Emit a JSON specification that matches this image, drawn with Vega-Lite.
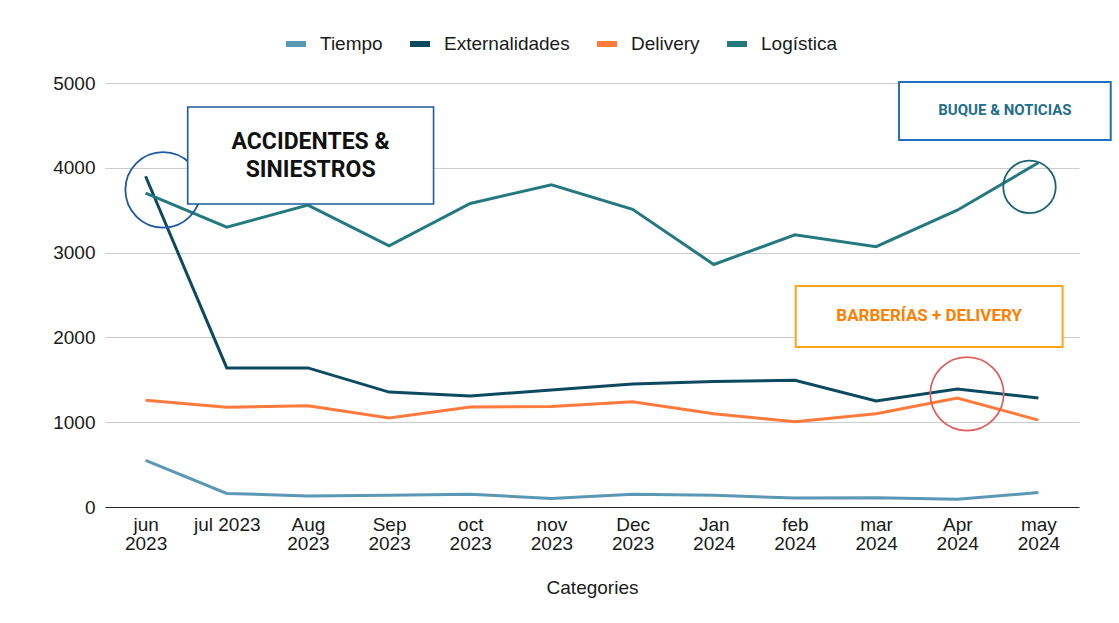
{
  "$schema": "https://vega.github.io/schema/vega-lite/v6.json",
  "width": 974,
  "height": 424,
  "autosize": {"type": "none"},
  "padding": {"left": 105, "top": 83, "right": 40, "bottom": 116},
  "background": "white",
  "config": {
    "font": "Liberation Sans",
    "view": {"stroke": null},
    "axis": {"labelFont": "Liberation Sans", "titleFont": "Liberation Sans", "labelColor": "#1a1a1a", "titleColor": "#1a1a1a"}
  },
  "layer": [
    {
      "data": {
        "values": [
          {"mes": "jun 2023", "serie": "Tiempo", "valor": 550},
          {"mes": "jul 2023", "serie": "Tiempo", "valor": 160},
          {"mes": "Aug 2023", "serie": "Tiempo", "valor": 130},
          {"mes": "Sep 2023", "serie": "Tiempo", "valor": 140},
          {"mes": "oct 2023", "serie": "Tiempo", "valor": 150},
          {"mes": "nov 2023", "serie": "Tiempo", "valor": 100},
          {"mes": "Dec 2023", "serie": "Tiempo", "valor": 150},
          {"mes": "Jan 2024", "serie": "Tiempo", "valor": 140},
          {"mes": "feb 2024", "serie": "Tiempo", "valor": 105},
          {"mes": "mar 2024", "serie": "Tiempo", "valor": 110},
          {"mes": "Apr 2024", "serie": "Tiempo", "valor": 90},
          {"mes": "may 2024", "serie": "Tiempo", "valor": 170},
          {"mes": "jun 2023", "serie": "Externalidades", "valor": 3900},
          {"mes": "jul 2023", "serie": "Externalidades", "valor": 1640},
          {"mes": "Aug 2023", "serie": "Externalidades", "valor": 1640},
          {"mes": "Sep 2023", "serie": "Externalidades", "valor": 1355},
          {"mes": "oct 2023", "serie": "Externalidades", "valor": 1310},
          {"mes": "nov 2023", "serie": "Externalidades", "valor": 1380},
          {"mes": "Dec 2023", "serie": "Externalidades", "valor": 1450},
          {"mes": "Jan 2024", "serie": "Externalidades", "valor": 1480},
          {"mes": "feb 2024", "serie": "Externalidades", "valor": 1495},
          {"mes": "mar 2024", "serie": "Externalidades", "valor": 1250},
          {"mes": "Apr 2024", "serie": "Externalidades", "valor": 1390},
          {"mes": "may 2024", "serie": "Externalidades", "valor": 1285},
          {"mes": "jun 2023", "serie": "Delivery", "valor": 1260},
          {"mes": "jul 2023", "serie": "Delivery", "valor": 1175},
          {"mes": "Aug 2023", "serie": "Delivery", "valor": 1195},
          {"mes": "Sep 2023", "serie": "Delivery", "valor": 1050},
          {"mes": "oct 2023", "serie": "Delivery", "valor": 1180},
          {"mes": "nov 2023", "serie": "Delivery", "valor": 1185},
          {"mes": "Dec 2023", "serie": "Delivery", "valor": 1240},
          {"mes": "Jan 2024", "serie": "Delivery", "valor": 1100},
          {"mes": "feb 2024", "serie": "Delivery", "valor": 1005},
          {"mes": "mar 2024", "serie": "Delivery", "valor": 1100},
          {"mes": "Apr 2024", "serie": "Delivery", "valor": 1285},
          {"mes": "may 2024", "serie": "Delivery", "valor": 1025},
          {"mes": "jun 2023", "serie": "Logística", "valor": 3700},
          {"mes": "jul 2023", "serie": "Logística", "valor": 3300},
          {"mes": "Aug 2023", "serie": "Logística", "valor": 3560},
          {"mes": "Sep 2023", "serie": "Logística", "valor": 3080},
          {"mes": "oct 2023", "serie": "Logística", "valor": 3580},
          {"mes": "nov 2023", "serie": "Logística", "valor": 3800},
          {"mes": "Dec 2023", "serie": "Logística", "valor": 3510},
          {"mes": "Jan 2024", "serie": "Logística", "valor": 2860},
          {"mes": "feb 2024", "serie": "Logística", "valor": 3210},
          {"mes": "mar 2024", "serie": "Logística", "valor": 3070},
          {"mes": "Apr 2024", "serie": "Logística", "valor": 3500},
          {"mes": "may 2024", "serie": "Logística", "valor": 4060}
        ]
      },
      "mark": {"type": "line", "strokeWidth": 3},
      "encoding": {
        "x": {
          "field": "mes", "type": "nominal", "sort": null,
          "scale": {"type": "point", "padding": 0.5},
          "title": "Categories",
          "axis": {
            "labelAngle": 0, "labelFontSize": 19, "labelLineHeight": 19, "labelPadding": 8,
            "ticks": false, "domainColor": "#222222", "domainWidth": 1.2, "grid": false,
            "labelExpr": "datum.value == 'jul 2023' ? datum.value : split(datum.value, ' ')",
            "labelBaseline": "top",
            "titleFontSize": 19, "titleFontWeight": "normal", "titlePadding": 25
          }
        },
        "y": {
          "field": "valor", "type": "quantitative",
          "scale": {"domain": [0, 5000], "nice": false},
          "title": null,
          "axis": {
            "values": [0, 1000, 2000, 3000, 4000, 5000], "format": "d",
            "labelFontSize": 19, "labelPadding": 10, "ticks": false, "domain": false,
            "gridColor": "#cccccc", "gridWidth": 1.2
          }
        },
        "color": {
          "field": "serie", "type": "nominal",
          "scale": {
            "domain": ["Tiempo", "Externalidades", "Delivery", "Logística"],
            "range": ["#5b98b6", "#0d4a5f", "#ff7a3c", "#24797f"]
          },
          "legend": {
            "title": null, "orient": "none", "direction": "horizontal",
            "legendX": 178, "legendY": -52, "padding": 0,
            "symbolType": "stroke", "symbolSize": 400, "symbolStrokeWidth": 6,
            "labelFontSize": 19, "labelFont": "Liberation Sans", "labelColor": "#1a1a1a",
            "labelOffset": 11, "columnPadding": 15
          }
        }
      }
    },
    {
      "encoding": {
        "x": {"type": "quantitative", "scale": {"domain": [-0.5, 11.5], "nice": false, "zero": false}, "axis": null},
        "y": {"type": "quantitative"}
      },
      "layer": [
        {
          "data": {"values": [{"px": 0.216, "py": 3740}]},
          "mark": {"type": "point", "shape": "circle", "filled": false, "size": 5700, "stroke": "#1e5aa0", "strokeWidth": 1.8, "opacity": 1},
          "encoding": {"x": {"field": "px", "type": "quantitative"}, "y": {"field": "py", "type": "quantitative"}}
        },
        {
          "data": {"values": [{"px": 10.89, "py": 3775}]},
          "mark": {"type": "point", "shape": "circle", "filled": false, "size": 2750, "stroke": "#1a6377", "strokeWidth": 1.8, "opacity": 1},
          "encoding": {"x": {"field": "px", "type": "quantitative"}, "y": {"field": "py", "type": "quantitative"}}
        },
        {
          "data": {"values": [{"px": 10.12, "py": 1335}]},
          "mark": {"type": "point", "shape": "circle", "filled": false, "size": 5400, "stroke": "#e0605f", "strokeWidth": 1.8, "opacity": 1},
          "encoding": {"x": {"field": "px", "type": "quantitative"}, "y": {"field": "py", "type": "quantitative"}}
        },
        {
          "data": {"values": [{"x0": 0.519, "x1": 3.548, "y0": 4717, "y1": 3573}]},
          "mark": {"type": "rect", "fill": "white", "stroke": "#1f5c99", "strokeWidth": 1.6},
          "encoding": {
            "x": {"field": "x0", "type": "quantitative"}, "x2": {"field": "x1"},
            "y": {"field": "y0", "type": "quantitative"}, "y2": {"field": "y1"}
          }
        },
        {
          "data": {"values": [{"x0": 9.283, "x1": 11.891, "y0": 5012, "y1": 4328}]},
          "mark": {"type": "rect", "fill": "white", "stroke": "#1f6fc2", "strokeWidth": 2},
          "encoding": {
            "x": {"field": "x0", "type": "quantitative"}, "x2": {"field": "x1"},
            "y": {"field": "y0", "type": "quantitative"}, "y2": {"field": "y1"}
          }
        },
        {
          "data": {"values": [{"x0": 8.01, "x1": 11.298, "y0": 2606, "y1": 1887}]},
          "mark": {"type": "rect", "fill": "white", "stroke": "#ffa31a", "strokeWidth": 2},
          "encoding": {
            "x": {"field": "x0", "type": "quantitative"}, "x2": {"field": "x1"},
            "y": {"field": "y0", "type": "quantitative"}, "y2": {"field": "y1"}
          }
        },
        {
          "data": {"values": [{"px": 2.033, "py": 4300, "t": "ACCIDENTES &\nSINIESTROS"}]},
          "mark": {"type": "text", "font": "Roboto", "fontWeight": "bold", "fontSize": 23, "lineBreak": "\n", "lineHeight": 28, "color": "#111111", "align": "center", "baseline": "middle"},
          "encoding": {"x": {"field": "px", "type": "quantitative"}, "y": {"field": "py", "type": "quantitative"}, "text": {"field": "t"}}
        },
        {
          "data": {"values": [{"px": 10.587, "py": 4682, "t": "BUQUE & NOTICIAS"}]},
          "mark": {"type": "text", "font": "Roboto", "fontWeight": "bold", "fontSize": 15, "color": "#1f6e8c", "align": "center", "baseline": "middle"},
          "encoding": {"x": {"field": "px", "type": "quantitative"}, "y": {"field": "py", "type": "quantitative"}, "text": {"field": "t"}}
        },
        {
          "data": {"values": [{"px": 9.654, "py": 2252, "t": "BARBERÍAS + DELIVERY"}]},
          "mark": {"type": "text", "font": "Roboto", "fontWeight": "bold", "fontSize": 17, "color": "#ff7f00", "align": "center", "baseline": "middle"},
          "encoding": {"x": {"field": "px", "type": "quantitative"}, "y": {"field": "py", "type": "quantitative"}, "text": {"field": "t"}}
        }
      ]
    }
  ],
  "resolve": {"scale": {"x": "independent"}}
}
